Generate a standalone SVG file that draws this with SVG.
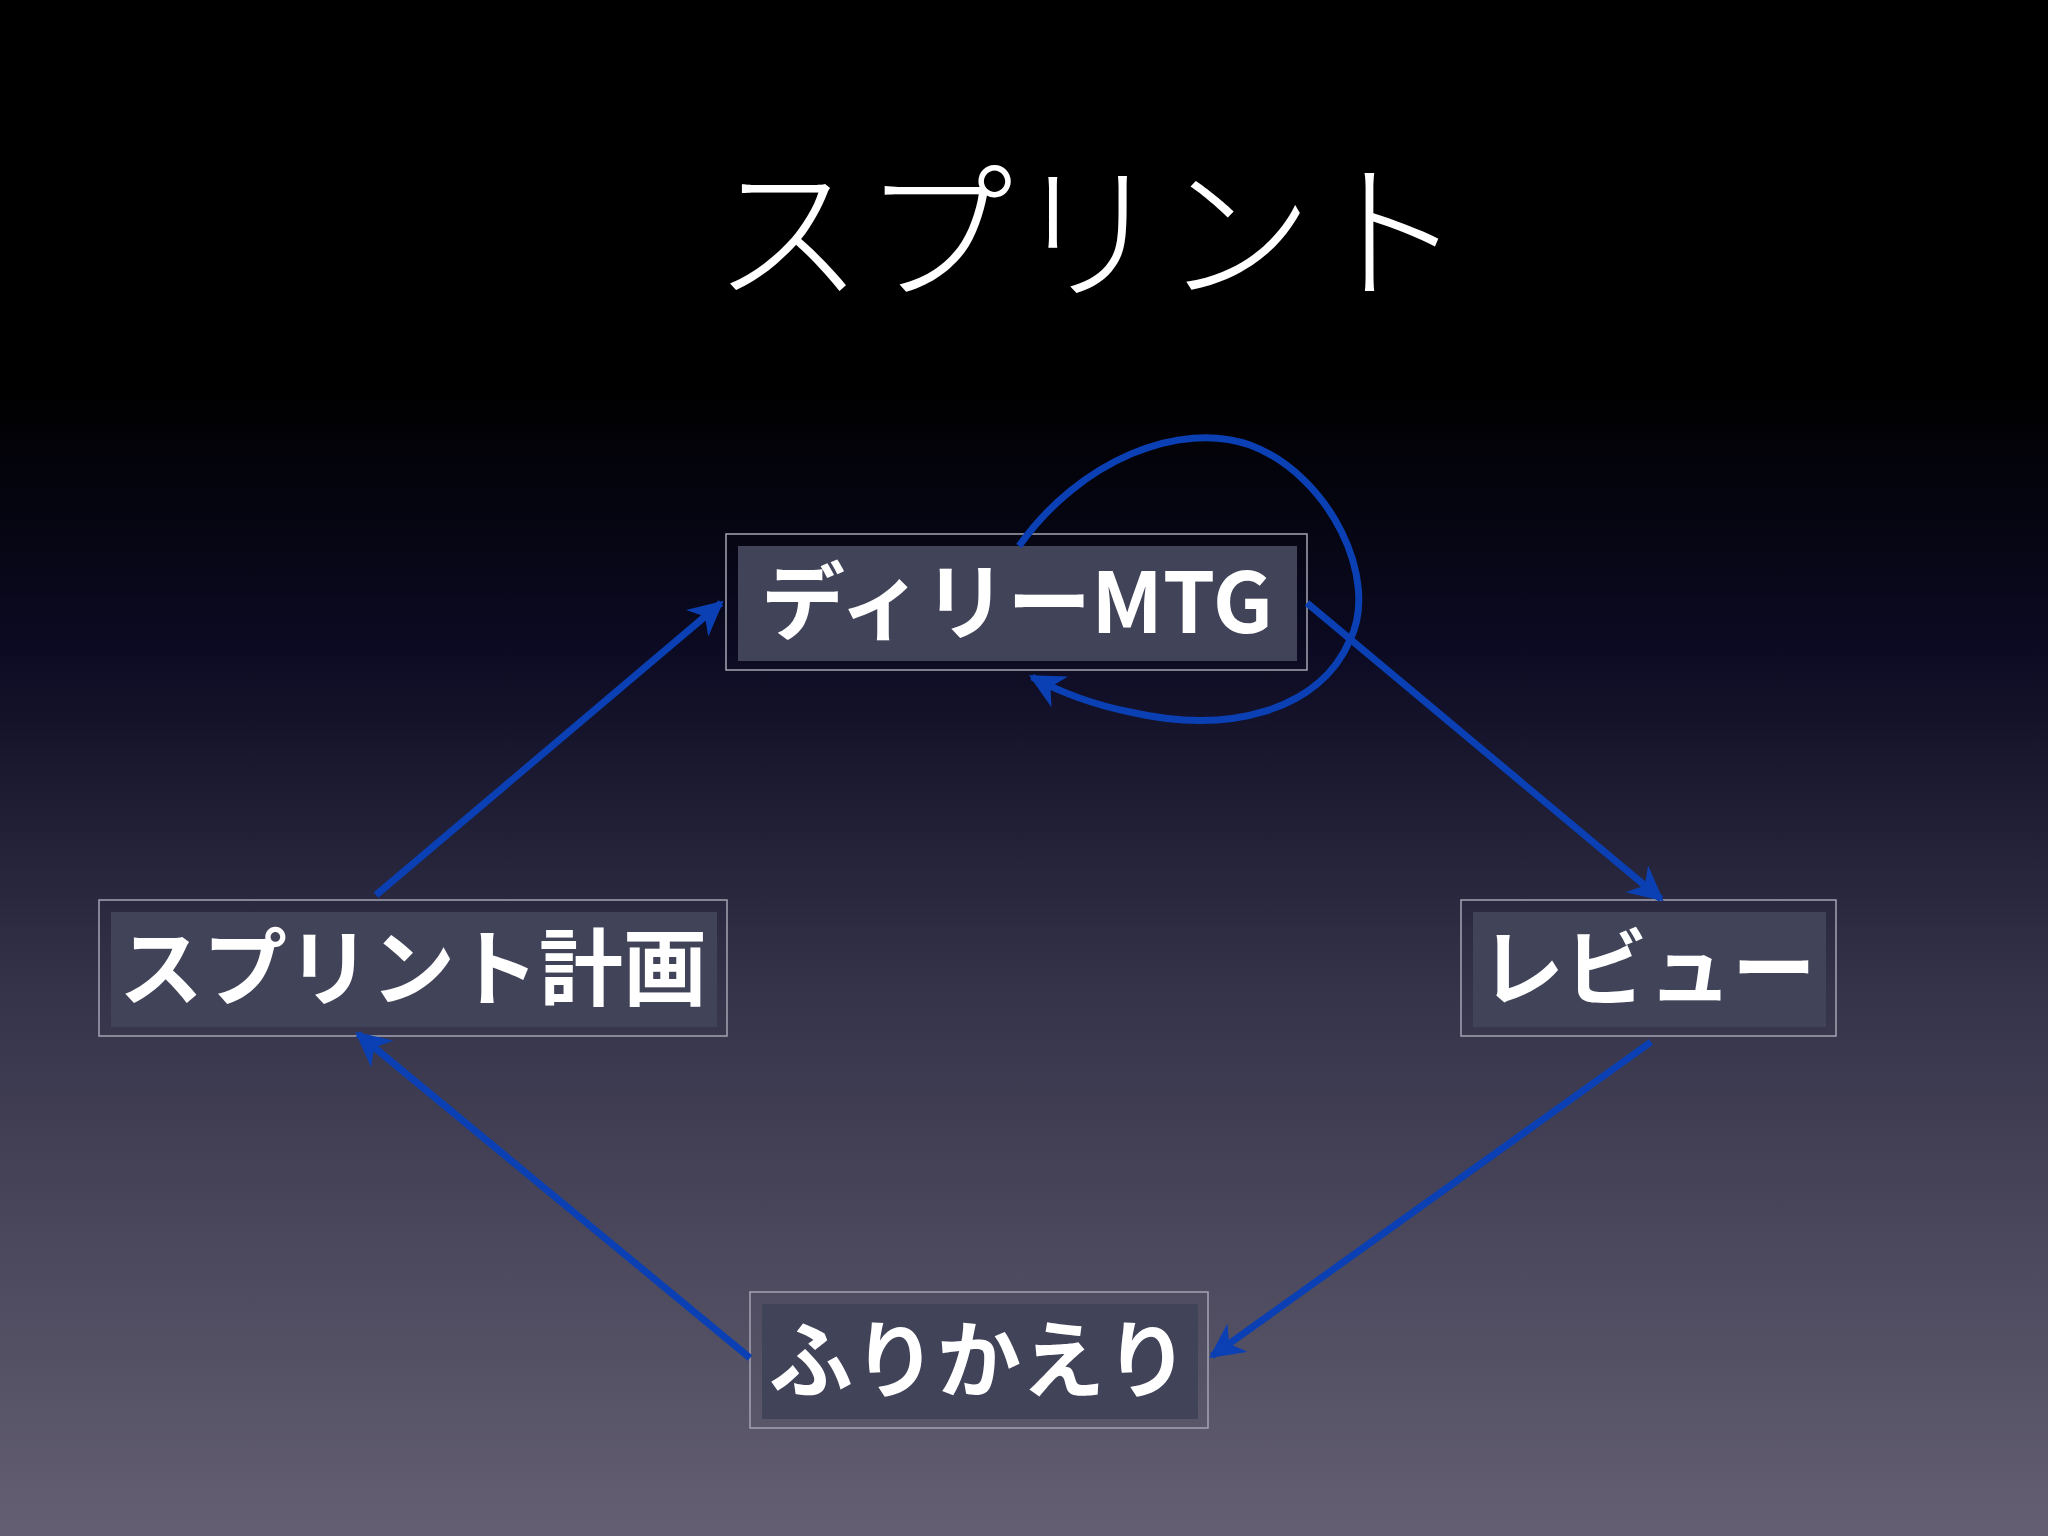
<svg xmlns="http://www.w3.org/2000/svg" width="2048" height="1536" viewBox="0 0 2048 1536">
<defs>
<linearGradient id="bg" x1="0" y1="0" x2="0" y2="1">
<stop offset="0" stop-color="#000"/><stop offset="0.25" stop-color="#000"/><stop offset="0.42" stop-color="#0b0a22"/><stop offset="0.65" stop-color="#36344a"/><stop offset="1" stop-color="#645f72"/>
</linearGradient>
<marker id="ah" viewBox="0 0 10 10" refX="9" refY="5" markerWidth="5" markerHeight="5" orient="auto" markerUnits="strokeWidth">
<path d="M0,0 L10,5 L0,10 L3,5 Z" fill="#0a40b4"/>
</marker>
<style>
.outer{fill:none;stroke:#a4a4b2;stroke-width:1.5}
.inner{fill:#414358}
.lbl{font-family:"Noto Sans CJK JP","Noto Sans",sans-serif;font-weight:bold;font-size:84px;fill:#fff;text-anchor:middle}
.c{fill:none;stroke:#0a40b4;stroke-width:7;marker-end:url(#ah)}
</style>
</defs>
<rect width="2048" height="1536" fill="url(#bg)"/>
<text x="1088" y="288" font-family="'Noto Sans CJK JP',sans-serif" font-weight="300" font-size="150" fill="#fff" text-anchor="middle">スプリント</text>
<g id="daily"><rect class="inner" x="738" y="546" width="559" height="115"/><rect class="outer" x="726" y="534" width="581" height="136"/><text class="lbl" x="1017" y="633">ディリーMTG</text></g>
<g id="plan"><rect class="inner" x="111" y="912" width="606" height="115"/><rect class="outer" x="99" y="900" width="628" height="136"/><text class="lbl" x="413" y="999">スプリント計画</text></g>
<g id="review"><rect class="inner" x="1473" y="912" width="353" height="115"/><rect class="outer" x="1461" y="900" width="375" height="136"/><text class="lbl" x="1648" y="999">レビュー</text></g>
<g id="furi"><rect class="inner" x="762" y="1304" width="436" height="115"/><rect class="outer" x="750" y="1292" width="458" height="136"/><text class="lbl" x="979" y="1391">ふりかえり</text></g>
<g id="connectors">
<path class="c" d="M376,895 L721,603"/>
<path class="c" d="M1307,603 L1661,899"/>
<path class="c" d="M1651,1042 L1212,1356"/>
<path class="c" d="M750,1358 L358,1034"/>
<path class="c" d="M1019,546 C1080,460 1180,420 1250,445 C1330,475 1380,580 1350,640 C1320,710 1230,735 1130,712 C1090,704 1060,692 1032,677"/>
</g>
</svg>
